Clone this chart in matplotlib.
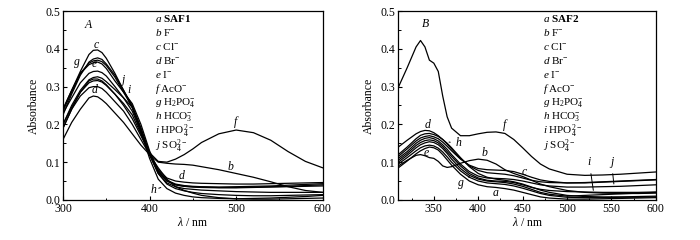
import matplotlib
matplotlib.use("Agg")
import matplotlib.pyplot as plt
from matplotlib.ticker import MultipleLocator

plt.rcParams['font.family'] = ['Liberation Serif', 'DejaVu Serif']
plt.rcParams['mathtext.fontset'] = 'custom'
plt.rcParams['mathtext.rm'] = 'Liberation Serif'
plt.rcParams['mathtext.it'] = 'Liberation Serif:italic'
plt.rcParams['mathtext.bf'] = 'Liberation Serif:bold'

# ---- panel A : SAF1 ----
wl_A = [300, 310, 320, 330, 335, 340, 345, 350, 360, 370, 380, 390, 400,
        410, 420, 430, 440, 450, 460, 480, 500, 520, 540, 560, 580, 600]
A_a = [0.16, 0.205, 0.24, 0.27, 0.275, 0.273, 0.265, 0.255, 0.23, 0.205, 0.175, 0.145, 0.12,
       0.085, 0.055, 0.035, 0.025, 0.018, 0.012, 0.006, 0.003, 0.002, 0.002, 0.003, 0.004, 0.005]
A_b = [0.19, 0.24, 0.275, 0.297, 0.30, 0.30, 0.295, 0.285, 0.26, 0.235, 0.2, 0.16, 0.12,
       0.1, 0.097, 0.095, 0.094, 0.092, 0.088, 0.08, 0.07, 0.06, 0.048, 0.035, 0.025, 0.02]
A_c = [0.24, 0.29, 0.34, 0.385, 0.396, 0.397, 0.39, 0.375, 0.335, 0.29, 0.25, 0.19, 0.12,
       0.07, 0.045, 0.035, 0.03, 0.028, 0.026, 0.024, 0.022, 0.021, 0.02, 0.02, 0.02, 0.02]
A_d = [0.2, 0.245, 0.285, 0.31, 0.315, 0.316, 0.312, 0.303, 0.28, 0.255, 0.225, 0.175, 0.12,
       0.08, 0.058, 0.05, 0.047, 0.045, 0.044, 0.043, 0.042, 0.042, 0.043, 0.044, 0.045, 0.046]
A_e = [0.23, 0.27, 0.31, 0.335, 0.34, 0.341, 0.337, 0.328, 0.3, 0.27, 0.235, 0.18, 0.12,
       0.075, 0.05, 0.04, 0.036, 0.034, 0.033, 0.032, 0.032, 0.033, 0.034, 0.035, 0.036, 0.037]
A_f = [0.19, 0.24, 0.285, 0.315, 0.32, 0.32, 0.315, 0.305, 0.28, 0.25, 0.215, 0.17, 0.125,
       0.102, 0.1, 0.108, 0.12, 0.135, 0.152, 0.175, 0.185, 0.178, 0.158, 0.128, 0.102, 0.085]
A_g = [0.235, 0.285, 0.335, 0.362, 0.368, 0.37, 0.366, 0.356, 0.325, 0.285, 0.245, 0.185, 0.12,
       0.07, 0.042, 0.03, 0.024, 0.02, 0.017, 0.014, 0.012, 0.011, 0.011, 0.012, 0.013, 0.014]
A_h = [0.225, 0.28, 0.33, 0.365, 0.373, 0.376, 0.372, 0.36, 0.33, 0.29, 0.245, 0.18, 0.11,
       0.055, 0.03, 0.018, 0.012, 0.008, 0.006, 0.004, 0.003, 0.004, 0.005, 0.007, 0.009, 0.012]
A_i = [0.2, 0.25, 0.29, 0.318, 0.324, 0.326, 0.322, 0.313, 0.292, 0.27, 0.245, 0.19, 0.125,
       0.075, 0.05, 0.04, 0.036, 0.035, 0.034, 0.033, 0.033, 0.034, 0.035, 0.036, 0.038, 0.04]
A_j = [0.24, 0.29, 0.335, 0.358, 0.363, 0.365, 0.36, 0.348, 0.315, 0.285, 0.255, 0.2, 0.13,
       0.078, 0.052, 0.042, 0.038, 0.036, 0.035, 0.034, 0.035, 0.036, 0.037, 0.039, 0.041, 0.043]

# ---- panel B : SAF2 ----
wl_B = [310, 320, 330, 335, 340, 345, 350, 355, 360, 365, 370, 380, 390, 400,
        410, 420, 430, 440, 450, 460, 470, 480, 500, 520, 540, 560, 580, 600]
B_a = [0.085, 0.103, 0.122, 0.13, 0.136, 0.14, 0.138, 0.132, 0.12, 0.106, 0.092, 0.068, 0.05, 0.04,
       0.035, 0.033, 0.03, 0.026, 0.02, 0.014, 0.008, 0.005, 0.002, 0.002, 0.003, 0.004, 0.005, 0.006]
B_b = [0.09, 0.105, 0.118, 0.12, 0.117, 0.112, 0.11, 0.102, 0.09, 0.086, 0.088, 0.097, 0.104, 0.108,
       0.105, 0.095, 0.08, 0.07, 0.062, 0.052, 0.042, 0.035, 0.025, 0.02, 0.018, 0.017, 0.017, 0.018]
B_c = [0.115, 0.135, 0.156, 0.164, 0.168, 0.17, 0.167, 0.162, 0.153, 0.142, 0.13, 0.108, 0.092, 0.083,
       0.08, 0.079, 0.078, 0.075, 0.068, 0.06, 0.053, 0.049, 0.045, 0.045, 0.047, 0.049, 0.051, 0.053]
B_d = [0.14, 0.158, 0.175, 0.181, 0.184, 0.183, 0.178, 0.17, 0.16, 0.148, 0.135, 0.11, 0.09, 0.078,
       0.072, 0.07, 0.068, 0.064, 0.058, 0.052, 0.048, 0.046, 0.045, 0.046, 0.048, 0.05, 0.052, 0.054]
B_e = [0.095, 0.112, 0.13, 0.138, 0.143, 0.145, 0.143, 0.137, 0.127, 0.114, 0.1, 0.077, 0.06, 0.05,
       0.045, 0.043, 0.041, 0.037, 0.031, 0.024, 0.017, 0.012, 0.007, 0.006, 0.006, 0.007, 0.007, 0.008]
B_f = [0.298, 0.35, 0.405, 0.422, 0.405, 0.37, 0.362, 0.34, 0.275, 0.22, 0.19, 0.17, 0.17, 0.175,
       0.179, 0.18, 0.176, 0.16, 0.138, 0.115, 0.095, 0.082, 0.068, 0.065, 0.066, 0.068, 0.071, 0.074]
B_g = [0.1, 0.118, 0.138, 0.146, 0.151, 0.154, 0.152, 0.146, 0.136, 0.123, 0.108, 0.083, 0.065, 0.055,
       0.05, 0.048, 0.046, 0.042, 0.036, 0.028, 0.02, 0.015, 0.01, 0.012, 0.014, 0.016, 0.018, 0.02]
B_h = [0.12, 0.14, 0.162, 0.171, 0.175, 0.176, 0.173, 0.168, 0.16, 0.15, 0.138, 0.112, 0.088, 0.07,
       0.06, 0.055, 0.052, 0.048, 0.042, 0.034, 0.026, 0.02, 0.012, 0.009, 0.008, 0.008, 0.009, 0.01]
B_i = [0.105, 0.123, 0.144, 0.152, 0.157, 0.159, 0.157, 0.151, 0.141, 0.128, 0.115, 0.09, 0.07, 0.058,
       0.052, 0.05, 0.049, 0.046, 0.04, 0.033, 0.028, 0.025, 0.022, 0.021, 0.02, 0.02, 0.02, 0.021]
B_j = [0.11, 0.128, 0.15, 0.158, 0.163, 0.165, 0.162, 0.156, 0.146, 0.134, 0.12, 0.095, 0.075, 0.063,
       0.058, 0.057, 0.056, 0.054, 0.05, 0.045, 0.04, 0.037, 0.034, 0.034, 0.035, 0.036, 0.038, 0.04]

letters = ['a', 'b', 'c', 'd', 'e', 'f', 'g', 'h', 'i', 'j']
ions = [r'\mathrm{F^{-}}', r'\mathrm{Cl^{-}}', r'\mathrm{Br^{-}}', r'\mathrm{I^{-}}',
        r'\mathrm{AcO^{-}}', r'\mathrm{H_2PO_4^{-}}', r'\mathrm{HCO_3^{-}}',
        r'\mathrm{HPO_4^{2-}}', r'\mathrm{SO_4^{2-}}']

curves_A = [A_a, A_b, A_c, A_d, A_e, A_f, A_g, A_h, A_i, A_j]
curves_B = [B_a, B_b, B_c, B_d, B_e, B_f, B_g, B_h, B_i, B_j]

fig = plt.figure(figsize=(7, 2.4), dpi=100)
axA = fig.add_axes([0.09, 0.167, 0.371, 0.787])
axB = fig.add_axes([0.569, 0.167, 0.368, 0.787])


def style(ax, xmin, xmaj, xmin_step):
    ax.set_xlim(xmin, 600)
    ax.set_ylim(0, 0.5)
    ax.xaxis.set_major_locator(MultipleLocator(xmaj))
    ax.xaxis.set_minor_locator(MultipleLocator(xmin_step))
    ax.yaxis.set_major_locator(MultipleLocator(0.1))
    ax.yaxis.set_minor_locator(MultipleLocator(0.05))
    ax.yaxis.set_major_formatter(plt.FormatStrFormatter('%.1f'))
    ax.tick_params(which='both', direction='in', labelsize=8.5, pad=2)
    ax.tick_params(which='major', length=3, width=0.8)
    ax.tick_params(which='minor', length=1.8, width=0.7)
    for s in ax.spines.values():
        s.set_linewidth(0.9)
    ax.set_xlabel(r'$\mathit{\lambda}$ / nm', fontsize=8.5, labelpad=1)
    ax.set_ylabel('Absorbance', fontsize=8.5, labelpad=4)


def legend_block(ax, x0, title):
    y = 0.963
    ax.text(x0, y, r'$\mathit{a}\ \mathbf{%s}$' % title, transform=ax.transAxes,
            fontsize=8, va='center')
    for L, ion in zip(letters[1:], ions):
        y -= 0.0752
        ax.text(x0, y, r'$\mathit{%s}\ %s$' % (L, ion), transform=ax.transAxes,
                fontsize=8, va='center')


for y in curves_A:
    axA.plot(wl_A, y, color='black', lw=0.9)
for y in curves_B:
    axB.plot(wl_B, y, color='black', lw=0.9)

style(axA, 300, 100, 50)
style(axB, 310, 50, 25)
legend_block(axA, 0.355, 'SAF1')
legend_block(axB, 0.56, 'SAF2')

it = dict(fontsize=8.5, style='italic', ha='center', va='center')
axA.text(329, 0.463, 'A', **it)
axA.text(338, 0.41, 'c', **it)
axA.text(336, 0.36, 'e', **it)
axA.text(336, 0.29, 'd', **it)
axA.text(369, 0.317, 'j', **it)
axA.text(376, 0.29, 'i', **it)
axA.text(499, 0.205, 'f', **it)
axA.text(494, 0.088, 'b', **it)
axA.text(437, 0.063, 'd', **it)
axA.annotate('g', xy=(325, 0.345), xytext=(316, 0.365),
             arrowprops=dict(arrowstyle='-', lw=0.7), **it)
axA.annotate('h', xy=(413, 0.033), xytext=(404, 0.025),
             arrowprops=dict(arrowstyle='-', lw=0.7), **it)

axB.text(341, 0.465, 'B', **it)
axB.text(343, 0.198, 'd', **it)
axB.text(342, 0.125, 'e', **it)
axB.text(407, 0.123, 'b', **it)
axB.text(452, 0.073, 'c', **it)
axB.text(430, 0.198, 'f', **it)
axB.text(420, 0.019, 'a', **it)
axB.annotate('h', xy=(364, 0.154), xytext=(378, 0.15),
             arrowprops=dict(arrowstyle='-', lw=0.7), **it)
axB.annotate('g', xy=(390, 0.062), xytext=(380, 0.046),
             arrowprops=dict(arrowstyle='-', lw=0.7), **it)
axB.annotate('i', xy=(530, 0.018), xytext=(525, 0.1),
             arrowprops=dict(arrowstyle='-', lw=0.7), **it)
axB.annotate('j', xy=(553, 0.035), xytext=(550, 0.1),
             arrowprops=dict(arrowstyle='-', lw=0.7), **it)

fig.savefig('out.png', dpi=100)
